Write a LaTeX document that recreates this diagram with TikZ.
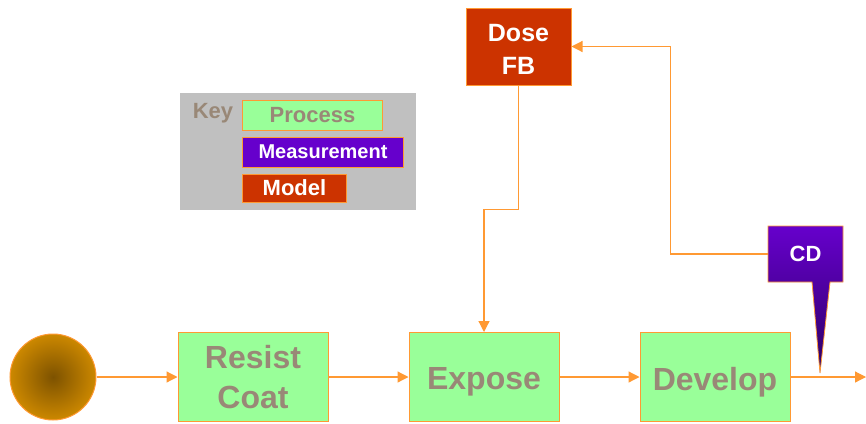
\documentclass[tikz,border=0pt]{standalone}
\usepackage{fontspec}
\setmainfont{Liberation Sans}
\usetikzlibrary{arrows.meta,positioning,shapes}

\definecolor{lineorange}{RGB}{255,153,51}
\definecolor{procgreen}{RGB}{153,255,153}
\definecolor{proctext}{RGB}{153,136,119}
\definecolor{modelred}{RGB}{204,51,0}
\definecolor{measpurple}{RGB}{102,0,204}
\definecolor{measdark}{RGB}{45,0,100}
\definecolor{keygray}{RGB}{192,192,192}

% shift a label down without changing its box
\newcommand{\lowtext}[2]{\raisebox{-#1}[\height][\depth]{#2}}

\begin{document}
\begin{tikzpicture}[x=1pt,y=-1pt,thick]
\tikzstyle{flow}=[-{Triangle[length=11pt,width=11pt,fill=lineorange]},draw=lineorange,line width=1.2pt]
\tikzstyle{proc}=[draw=lineorange,line width=1pt,fill=procgreen,text=proctext,font=\bfseries\fontsize{32}{40}\selectfont,minimum width=150pt,minimum height=89pt,align=center,inner sep=0pt]
\tikzstyle{model}=[draw=lineorange,line width=1pt,fill=modelred,text=white,font=\bfseries\fontsize{25}{33}\selectfont,align=center,inner sep=0pt]
\tikzstyle{keybox}=[draw=lineorange,line width=1pt,anchor=west,inner sep=0pt,font=\bfseries]

\useasboundingbox (0,0) rectangle (866,423);

% legend
\fill[keygray] (180,93) rectangle (416,210);
\node[text=proctext,font=\bfseries\fontsize{22}{26}\selectfont] (key) at (213,113) {Key};
\node[keybox,fill=procgreen,text=proctext,minimum width=140pt,minimum height=30pt,font=\bfseries\fontsize{22}{26}\selectfont] (kproc) at (242,115) {Process};
\node[keybox,fill=measpurple,text=white,minimum width=161pt,minimum height=30pt,font=\bfseries\fontsize{20}{24}\selectfont] (kmeas) at (242,152) {Measurement};
\node[keybox,fill=modelred,text=white,minimum width=104pt,minimum height=28pt,font=\bfseries\fontsize{22}{26}\selectfont] (kmodel) at (242,188) {Model};

% process line
\node[circle,draw=lineorange,line width=1pt,inner color={rgb,255:red,125;green,82;blue,0},outer color={rgb,255:red,204;green,136;blue,0},minimum size=86pt] (wafer) at (53,377) {};
\node[proc] (resist) [right of=wafer,node distance=200pt] {Resist\\Coat};
\node[proc] (expose) [right of=resist,node distance=231pt] {\lowtext{5pt}{Expose}};
\node[proc] (develop) [right of=expose,node distance=231pt] {\lowtext{5pt}{Develop}};
\coordinate (exit) at (866,377);

\node[model,minimum width=105pt,minimum height=77pt] (dose) at (518.5,46.5) {\lowtext{3pt}{Dose}\\\lowtext{3pt}{FB}};

% CD callout with its pointer
\shade[top color=measpurple,bottom color=measdark,draw=lineorange,line width=0.8pt]
  (768,226) -- (843,226) -- (843,282) -- (830,282) -- (820,373) -- (812,282) -- (768,282) -- cycle;
\node[text=white,font=\bfseries\fontsize{22}{26}\selectfont,minimum width=75pt,minimum height=56pt,inner sep=0pt] (cd) at (805.5,254) {CD};

\draw[flow] (wafer) -- (resist);
\draw[flow] (resist) -- (expose);
\draw[flow] (expose) -- (develop);
\draw[flow] (develop) -- (exit);
\draw[flow] (dose.south) -- ++(0,124) -| (expose.north);
\draw[flow] (cd.west) -| ([xshift=99pt]dose.east) -- (dose.east);
\end{tikzpicture}
\end{document}
